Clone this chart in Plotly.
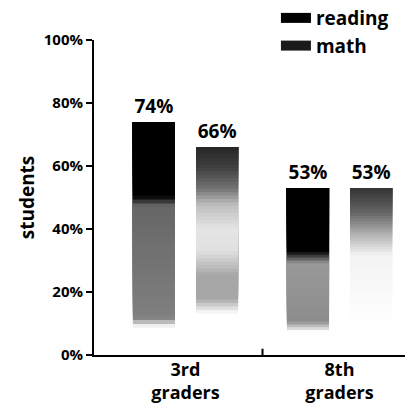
import plotly.graph_objects as go

categories = ["3rd<br>graders", "8th<br>graders"]
reading = [74, 53]
math = [66, 53]
tick_vals = [0, 20, 40, 60, 80, 100]
tick_text = ["0%", "20%", "40%", "60%", "80%", "100%"]

FONT = "Open Sans"
N = 60

# darkness stops along each bar (fraction of bar height, darkness 0..1)
shade_reading = [
    [(0, 0), (0.12, 0), (0.16, 0.5), (0.64, 0.6), (0.68, 1), (1, 1)],
    [(0, 0), (0.14, 0), (0.2, 0.45), (0.55, 0.4), (0.62, 1), (1, 1)],
]
shade_math = [
    [(0, 0), (0.2, 0), (0.27, 0.35), (0.38, 0.35), (0.5, 0.12), (0.6, 0.1),
     (0.72, 0.25), (0.8, 0.55), (0.9, 0.75), (1, 0.85)],
    [(0, 0), (0.18, 0), (0.6, 0.05), (0.72, 0.3), (0.85, 0.6), (1, 0.8)],
]


def darkness(stops, t):
    for (t0, d0), (t1, d1) in zip(stops, stops[1:]):
        if t0 <= t <= t1:
            return d0 + (d1 - d0) * (t - t0) / (t1 - t0)
    return stops[-1][1]


def grey(d):
    v = int(round(255 * (1 - d)))
    return f"rgb({v},{v},{v})"


fig = go.Figure()

for name, vals, shades in [("reading", reading, shade_reading), ("math", math, shade_math)]:
    for i in range(N):
        # each slice runs to the top of the bar; the next slice paints over it
        t0, t1 = i / N, (i + 1) / N
        top = i == N - 1
        fig.add_trace(go.Bar(
            x=categories,
            y=[v * (1 - t0) for v in vals],
            base=[v * t0 for v in vals],
            offsetgroup=name,
            marker=dict(color=[grey(darkness(s, (t0 + t1) / 2)) for s in shades], line=dict(width=0)),
            text=[f"{v}%" for v in vals] if top else None,
            textposition="outside" if top else "none",
            textfont=dict(family=FONT, size=19, color="black", weight="bold"),
            cliponaxis=False,
            showlegend=False,
            hoverinfo="skip",
        ))

# legend entries
for name, col in [("reading", "black"), ("math", "#1a1a1a")]:
    fig.add_trace(go.Scatter(
        x=[None], y=[None], mode="lines", name=name,
        line=dict(color=col, width=17),
    ))

fig.update_layout(
    width=415, height=410,
    margin=dict(l=94, r=10, t=40, b=55, autoexpand=False),
    paper_bgcolor="white", plot_bgcolor="white",
    barmode="group", bargap=0.18, bargroupgap=0.333,
    font=dict(family=FONT, color="black"),
    legend=dict(x=0.585, y=1.13, xanchor="left", yanchor="top",
                font=dict(family=FONT, size=19, weight="bold"),
                bgcolor="rgba(0,0,0,0)"),
    shapes=[dict(type="line", xref="x", yref="y", x0=0.5, x1=0.5, y0=0, y1=2,
                 line=dict(color="black", width=2))],
)
fig.update_xaxes(
    range=[-0.594, 1.425], showline=True, linecolor="black", linewidth=2,
    ticks="", showgrid=False, zeroline=False, ticklabelstandoff=-3,
    tickfont=dict(family=FONT, size=18, weight="bold"),
)
fig.update_yaxes(
    range=[0, 100], tickvals=tick_vals, ticktext=tick_text,
    showline=True, linecolor="black", linewidth=2,
    ticks="outside", ticklen=6, tickwidth=1.5, tickcolor="black",
    showgrid=False, zeroline=False,
    tickfont=dict(family=FONT, size=15, weight="bold"),
    title=dict(text="students", font=dict(family=FONT, size=19, weight="bold"), standoff=4),
)

fig.write_html("out.html", config={"displayModeBar": False},
               post_script="document.body.style.margin='0';")
